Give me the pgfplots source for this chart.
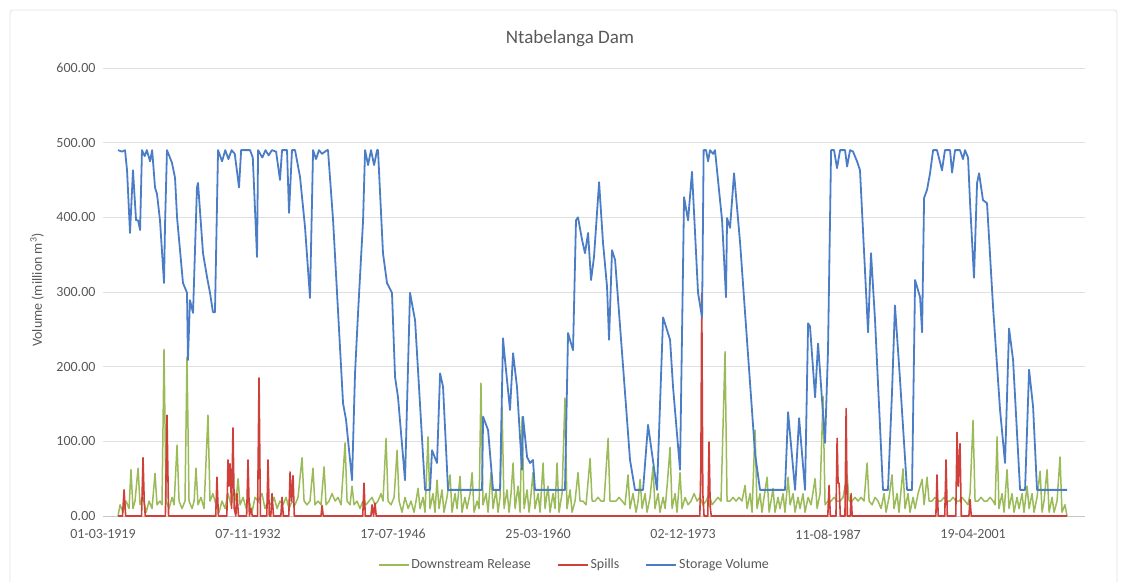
\documentclass[border=0pt]{standalone}
\usepackage{fontspec}
\setmainfont{Carlito}
\usepackage{pgfplots}
\pgfplotsset{compat=1.18}
\definecolor{txt}{HTML}{595959}
\definecolor{cgreen}{HTML}{9BBB59}
\definecolor{cred}{HTML}{D0403A}
\definecolor{cblue}{HTML}{4A7DC6}
\definecolor{grid}{HTML}{E0E0E0}
\begin{document}
\begin{tikzpicture}
\path[use as bounding box] (0pt,0pt) rectangle (1121pt,581pt);
\draw[black!12, line width=0.8pt, rounded corners=3pt] (10pt,-10pt) rectangle (1117pt,571pt);
\begin{axis}[
  at={(103pt,65pt)}, anchor=south west,
  scale only axis, width=982pt, height=448pt,
  xmin=1919.16, xmax=2011.86, ymin=0, ymax=600,
  ytick={0,100,...,600},
  xtick={1919.16,1932.85,1946.54,1960.23,1973.92,1987.61,2001.30},
  xticklabels={01-03-1919,07-11-1932,17-07-1946,25-03-1960,02-12-1973,11-08-1987,19-04-2001},
  major tick length=0pt,
  ymajorgrids, grid style={draw=grid, line width=0.9pt},
  axis x line*=bottom, axis y line*=left,
  y axis line style={draw=none},
  x axis line style={draw=black!22, line width=0.9pt},
  /pgf/number format/assume math mode=true,
  yticklabel={\pgfmathprintnumber[fixed,fixed zerofill,precision=2]{\tick}},
  tick label style={font=\fontsize{14}{16}\selectfont, text=txt},
  yticklabel style={xshift=-4pt},
  xticklabel style={yshift=-10pt},
  legend style={at={(0.48,-0.109)}, anchor=center, draw=none, fill=none,
    legend columns=3, font=\fontsize{14}{16}\selectfont, text=txt,
    /tikz/every even column/.append style={column sep=24pt}},
  legend image code/.code={\draw[#1] (0pt,0pt) -- (30pt,0pt);},
  line join=round,
]
% Downstream Release
\addplot[cgreen, line width=1.5pt] coordinates {
(1920.58,0) (1920.77,15) (1921.05,5) (1921.34,20) (1921.62,10) (1921.80,62) (1921.99,10) (1922.18,20) (1922.47,64) (1922.66,15)
(1922.94,25) (1923.23,5) (1923.51,20) (1923.79,10) (1924.07,57) (1924.26,15) (1924.54,20) (1924.73,15) (1924.92,223) (1925.11,20)
(1925.39,10) (1925.68,25) (1925.87,15) (1926.15,95) (1926.34,20) (1926.62,10) (1926.90,20) (1927.09,213) (1927.28,20) (1927.57,10)
(1927.76,20) (1927.94,64) (1928.13,15) (1928.41,25) (1928.70,10) (1928.89,75) (1929.07,135) (1929.26,20) (1929.54,30) (1929.83,15)
(1930.11,5) (1930.40,20) (1930.68,10) (1930.96,30) (1931.24,15) (1931.53,35) (1931.72,20) (1931.91,50) (1932.10,15) (1932.38,25)
(1932.67,10) (1932.95,20) (1933.23,5) (1933.51,25) (1933.80,20) (1934.17,30) (1934.45,10) (1934.74,20) (1935.02,15) (1935.31,25)
(1935.59,10) (1935.87,20) (1936.15,15) (1936.44,25) (1936.72,10) (1937.01,20) (1937.29,15) (1937.57,25) (1937.95,78) (1938.14,20)
(1938.42,15) (1938.70,20) (1938.98,64) (1939.17,15) (1939.46,20) (1939.74,15) (1940.03,66) (1940.22,15) (1940.50,20) (1940.78,30)
(1941.07,20) (1941.35,25) (1941.63,15) (1942.01,98) (1942.20,20) (1942.48,15) (1942.67,40) (1942.86,15) (1943.14,20) (1943.42,10)
(1943.70,20) (1943.99,15) (1944.27,20) (1944.56,25) (1944.84,15) (1945.12,20) (1945.40,30) (1945.59,20) (1945.88,104) (1946.07,20)
(1946.35,15) (1946.64,25) (1946.92,88) (1947.11,20) (1947.39,5) (1947.67,25) (1947.96,10) (1948.24,20) (1948.52,5) (1948.71,20)
(1948.90,37) (1949.09,10) (1949.37,25) (1949.56,5) (1949.84,106) (1950.03,10) (1950.31,30) (1950.50,5) (1950.69,48) (1950.88,10)
(1951.16,35) (1951.35,5) (1951.63,25) (1951.92,55) (1952.11,5) (1952.39,30) (1952.58,10) (1952.86,53) (1953.05,5) (1953.33,25)
(1953.52,10) (1953.81,30) (1954.00,58) (1954.19,5) (1954.47,20) (1954.66,10) (1954.84,178) (1955.03,15) (1955.32,30) (1955.51,5)
(1955.79,58) (1955.98,10) (1956.26,35) (1956.45,5) (1956.64,25) (1956.83,146) (1957.02,10) (1957.30,35) (1957.49,5) (1957.68,30)
(1957.87,71) (1958.06,10) (1958.34,40) (1958.53,5) (1958.72,133) (1958.91,10) (1959.19,35) (1959.38,5) (1959.57,30) (1959.75,58)
(1959.94,10) (1960.23,30) (1960.42,5) (1960.70,71) (1960.89,10) (1961.17,40) (1961.36,5) (1961.64,30) (1961.83,10) (1962.02,71)
(1962.21,5) (1962.49,30) (1962.77,158) (1962.96,10) (1963.25,35) (1963.44,5) (1963.72,20) (1964.00,58) (1964.19,20) (1964.47,20)
(1964.76,15) (1965.14,77) (1965.33,20) (1965.61,20) (1965.89,25) (1966.17,20) (1966.46,20) (1966.84,104) (1967.02,20) (1967.30,20)
(1967.59,20) (1967.87,25) (1968.16,20) (1968.44,15) (1968.72,55) (1968.91,10) (1969.19,30) (1969.48,5) (1969.67,20) (1969.86,49)
(1970.05,10) (1970.33,30) (1970.52,5) (1970.80,25) (1971.08,66) (1971.27,10) (1971.56,30) (1971.74,5) (1972.03,25) (1972.22,10)
(1972.41,40) (1972.69,92) (1972.88,10) (1973.16,30) (1973.35,5) (1973.63,58) (1973.82,10) (1974.11,25) (1974.39,15) (1974.67,20)
(1974.96,30) (1975.24,20) (1975.52,25) (1975.80,15) (1976.09,20) (1976.37,30) (1976.65,15) (1976.94,20) (1977.22,25) (1977.50,20)
(1977.88,220) (1978.07,20) (1978.35,20) (1978.63,25) (1978.92,20) (1979.20,25) (1979.48,20) (1979.77,41) (1979.96,10) (1980.24,30)
(1980.43,5) (1980.71,115) (1980.90,10) (1981.18,30) (1981.37,5) (1981.56,25) (1981.85,52) (1982.04,5) (1982.22,20) (1982.41,37)
(1982.60,5) (1982.88,25) (1983.07,10) (1983.35,30) (1983.54,5) (1983.83,52) (1984.02,15) (1984.30,30) (1984.49,5) (1984.77,25)
(1984.96,10) (1985.24,30) (1985.43,5) (1985.72,25) (1986.00,15) (1986.38,50) (1986.57,10) (1986.85,30) (1987.13,160) (1987.32,15)
(1987.60,20) (1987.89,20) (1988.17,25) (1988.45,20) (1988.74,20) (1989.02,25) (1989.40,55) (1989.59,20) (1989.87,20) (1990.15,25)
(1990.44,20) (1990.72,25) (1991.00,20) (1991.29,71) (1991.48,20) (1991.76,15) (1992.04,25) (1992.32,20) (1992.61,10) (1992.89,30)
(1993.08,5) (1993.36,25) (1993.64,55) (1993.83,10) (1994.12,30) (1994.30,5) (1994.68,63) (1994.87,10) (1995.16,30) (1995.34,5)
(1995.63,25) (1995.82,10) (1996.10,30) (1996.48,49) (1996.67,15) (1996.95,52) (1997.14,20) (1997.42,20) (1997.70,25) (1997.99,20)
(1998.27,20) (1998.55,25) (1998.84,20) (1999.12,20) (1999.40,25) (1999.69,20) (1999.97,20) (2000.25,25) (2000.54,20) (2000.82,15)
(2001.01,30) (2001.29,128) (2001.48,20) (2001.76,20) (2002.05,25) (2002.33,20) (2002.61,20) (2002.90,25) (2003.18,20) (2003.37,15)
(2003.56,106) (2003.74,10) (2004.03,30) (2004.22,5) (2004.50,62) (2004.69,10) (2004.97,30) (2005.16,5) (2005.44,25) (2005.63,10)
(2005.92,30) (2006.10,5) (2006.39,40) (2006.58,10) (2006.86,30) (2007.05,5) (2007.33,25) (2007.62,60) (2007.81,5) (2007.99,20)
(2008.28,62) (2008.47,5) (2008.75,25) (2008.94,5) (2009.22,20) (2009.50,79) (2009.69,5) (2009.97,15) (2010.16,0)
};
\addlegendentry{Downstream Release}
% Spills
\addplot[cred, line width=1.6pt] coordinates {
(1920.58,0) (1921.00,0) (1921.15,35) (1921.30,0) (1922.80,0) (1922.94,78) (1923.05,20) (1923.15,0) (1925.05,0) (1925.20,135)
(1925.35,0) (1929.80,0) (1929.92,52) (1930.05,0) (1930.85,0) (1930.96,75) (1931.05,40) (1931.15,70) (1931.30,10) (1931.43,118)
(1931.55,10) (1931.70,0) (1931.81,30) (1931.95,0) (1932.72,0) (1932.85,75) (1932.98,0) (1933.12,10) (1933.25,0) (1933.75,0)
(1933.89,185) (1934.02,0) (1934.62,0) (1934.74,75) (1934.86,0) (1935.00,0) (1935.12,30) (1935.25,0) (1935.95,0) (1936.06,25)
(1936.18,0) (1936.70,0) (1936.82,59) (1936.95,20) (1937.10,54) (1937.22,0) (1939.74,0) (1939.84,14) (1939.95,0) (1943.68,0)
(1943.80,44) (1943.92,0) (1944.45,0) (1944.56,15) (1944.70,0) (1944.84,17) (1944.95,0) (1975.50,0) (1975.60,70) (1975.68,298)
(1975.78,30) (1975.90,0) (1976.25,0) (1976.37,99) (1976.48,12) (1976.58,0) (1987.58,0) (1987.70,41) (1987.82,0) (1988.35,0)
(1988.46,104) (1988.55,44) (1988.65,44) (1988.76,0) (1989.20,0) (1989.31,144) (1989.42,0) (1989.70,0) (1989.78,30) (1989.88,0)
(1997.78,0) (1997.89,55) (1998.00,0) (1998.62,0) (1998.74,75) (1998.86,0) (1999.66,0) (1999.78,112) (1999.90,40) (2000.06,97)
(2000.18,0) (2000.90,0) (2001.01,22) (2001.12,0) (2010.16,0)
};
\addlegendentry{Spills}
% Storage Volume
\addplot[cblue, line width=1.8pt] coordinates {
(1920.58,490) (1920.96,488) (1921.24,490) (1921.43,463) (1921.71,379) (1921.99,463) (1922.28,396) (1922.47,396) (1922.66,383) (1922.84,490)
(1923.10,482) (1923.30,490) (1923.60,475) (1923.80,490) (1924.07,440) (1924.26,431) (1924.54,396) (1924.92,312) (1925.01,387) (1925.20,490)
(1925.67,473) (1925.96,453) (1926.15,400) (1926.71,312) (1927.09,299) (1927.18,209) (1927.37,289) (1927.66,272) (1928.03,440) (1928.13,446)
(1928.60,352) (1928.98,320) (1929.26,299) (1929.54,273) (1929.73,273) (1930.02,490) (1930.40,475) (1930.70,490) (1931.00,478) (1931.30,490)
(1931.60,485) (1932.00,440) (1932.20,490) (1933.04,490) (1933.30,480) (1933.70,347) (1933.80,490) (1934.20,480) (1934.50,490) (1934.80,483)
(1935.10,490) (1935.50,488) (1935.87,450) (1936.06,490) (1936.53,490) (1936.72,406) (1937.00,490) (1937.29,490) (1937.76,454) (1938.23,387)
(1938.70,292) (1938.99,490) (1939.27,478) (1939.55,490) (1939.84,485) (1940.31,490) (1940.40,490) (1940.88,396) (1941.82,151) (1942.10,129)
(1942.67,48) (1942.95,191) (1943.24,273) (1943.71,396) (1943.90,490) (1944.18,470) (1944.46,490) (1944.75,470) (1945.03,490) (1945.12,490)
(1945.59,352) (1945.97,312) (1946.44,299) (1946.73,186) (1947.01,159) (1947.67,48) (1948.14,299) (1948.62,262) (1949.56,35) (1950.03,35)
(1950.22,88) (1950.69,71) (1950.98,191) (1951.26,173) (1951.73,35) (1954.94,35) (1955.04,133) (1955.51,115) (1955.98,35) (1956.64,35)
(1956.92,238) (1957.11,209) (1957.58,142) (1957.87,218) (1958.24,173) (1958.71,62) (1958.81,133) (1959.19,79) (1959.47,71) (1959.75,75)
(1959.94,35) (1962.77,35) (1963.06,245) (1963.53,222) (1963.81,396) (1964.00,400) (1964.38,370) (1964.66,352) (1964.95,379) (1965.23,316)
(1965.51,347) (1965.99,447) (1966.36,366) (1966.74,307) (1966.93,236) (1967.21,356) (1967.50,343) (1968.16,218) (1968.91,75) (1969.38,35)
(1970.14,35) (1970.61,122) (1971.46,35) (1972.03,266) (1972.69,236) (1972.97,173) (1973.63,62) (1974.01,427) (1974.39,396) (1974.76,461)
(1975.33,299) (1975.71,266) (1975.86,490) (1976.09,490) (1976.28,475) (1976.46,490) (1976.75,485) (1976.93,490) (1977.60,396) (1977.97,293)
(1978.07,399) (1978.35,386) (1978.73,459) (1979.30,366) (1980.71,84) (1981.18,35) (1983.54,35) (1983.83,139) (1984.49,35) (1984.87,131)
(1985.43,35) (1985.72,258) (1985.90,254) (1986.38,159) (1986.66,231) (1987.32,98) (1987.60,222) (1987.89,490) (1988.17,490) (1988.45,466)
(1988.74,490) (1989.21,490) (1989.40,468) (1989.68,490) (1989.96,488) (1990.34,475) (1990.62,463) (1991.38,246) (1991.66,352) (1992.04,262)
(1992.79,35) (1993.26,35) (1993.64,165) (1993.92,282) (1994.40,182) (1995.06,35) (1995.53,35) (1995.82,316) (1996.29,293) (1996.48,246)
(1996.67,426) (1996.95,437) (1997.23,459) (1997.52,490) (1997.89,490) (1998.36,463) (1998.64,490) (1999.12,490) (1999.31,460) (1999.59,490)
(2000.06,490) (2000.34,478) (2000.53,490) (2000.82,480) (2001.01,419) (2001.38,319) (2001.67,446) (2001.86,459) (2002.23,423) (2002.61,419)
(2003.18,280) (2003.84,142) (2004.31,71) (2004.69,251) (2005.07,209) (2005.73,35) (2006.20,35) (2006.58,196) (2006.96,146) (2007.33,35)
(2010.16,35)
};
\addlegendentry{Storage Volume}
\end{axis}
\node[text=txt, font=\fontsize{19}{22}\selectfont] at (570pt,542pt) {Ntabelanga Dam};
\node[text=txt, rotate=90, font=\fontsize{14}{16}\selectfont] at (37pt,291pt) {Volume (million m\textsuperscript{3})};
\end{tikzpicture}
\end{document}
